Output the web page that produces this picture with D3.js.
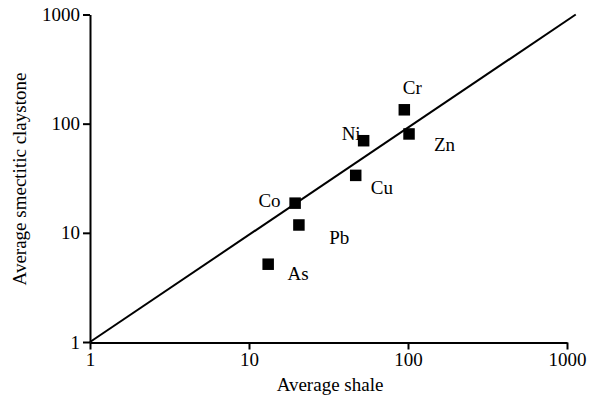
<!DOCTYPE html>
<html>
<head>
<meta charset="utf-8">
<script src="https://cdn.jsdelivr.net/npm/d3@7"></script>
<style>
  html, body { margin: 0; padding: 0; background: #fff; }
  svg { display: block; }
  svg text { font-family: "Liberation Serif", "Times New Roman", Times, serif !important; fill: #000; }
</style>
</head>
<body>
<svg id="chart" width="590" height="397"></svg>
<script>
// ---- data ----
const elements = ["Cr", "Zn", "Ni", "Cu", "Co", "Pb", "As"];
const shaleValues = [94.8, 101.5, 52.6, 46.9, 19.5, 20.6, 13.2];
const claystoneValues = [134, 80.5, 69.8, 33.6, 18.7, 11.8, 5.16];
const tickValues = [1, 10, 100, 1000];
const refLineX = [1, 1135];
const refLineY = [1, 1000];
const xTitle = "Average shale";
const yTitle = "Average smectitic claystone";

// ---- layout ----
const labelOffsets = [[-1.6, -16], [25, 17.4], [-22, -1], [15, 18.3], [-36.7, 3.4], [30.3, 19], [19.4, 15.7]];
const FONT = "'Liberation Serif', 'Times New Roman', Times, serif";
const svg = d3.select("#chart").attr("font-family", FONT);
const x = d3.scaleLog().domain([1, 1000]).range([90, 567]);
const y = d3.scaleLog().domain([1, 1000]).range([342, 14.5]);
const fontSize = 19;

// reference line
svg.append("line")
  .attr("x1", x(refLineX[0])).attr("y1", y(refLineY[0]))
  .attr("x2", x(refLineX[1])).attr("y2", y(refLineY[1]))
  .attr("stroke", "#000").attr("stroke-width", 2);

// axes
const xAxis = d3.axisBottom(x).tickValues(tickValues).tickFormat(d3.format("d"))
  .tickSize(7).tickSizeOuter(0).tickPadding(3);
const yAxis = d3.axisLeft(y).tickValues(tickValues).tickFormat(d3.format("d"))
  .tickSize(7).tickSizeOuter(0).tickPadding(3);

const gx = svg.append("g").attr("transform", "translate(0,342.5)").call(xAxis);
const gy = svg.append("g").attr("transform", "translate(90,0)").call(yAxis);
[gx, gy].forEach(g => {
  g.attr("font-family", FONT).attr("font-size", fontSize);
  g.selectAll("path.domain").attr("stroke", "#000").attr("stroke-width", 2);
  g.selectAll(".tick line").attr("stroke", "#000").attr("stroke-width", 2);
  g.selectAll(".tick text").attr("font-size", fontSize)
    .attr("font-family", FONT).attr("fill", "#000");
});

// points
const data = elements.map((e, i) => ({ e, sx: shaleValues[i], cy: claystoneValues[i], off: labelOffsets[i] }));
const sq = 11.5;
svg.append("g").selectAll("rect").data(data).join("rect")
  .attr("x", d => x(d.sx) - sq / 2).attr("y", d => y(d.cy) - sq / 2)
  .attr("width", sq).attr("height", sq).attr("fill", "#000");

svg.append("g").selectAll("text").data(data).join("text")
  .attr("x", d => x(d.sx) + d.off[0]).attr("y", d => y(d.cy) + d.off[1])
  .attr("font-size", fontSize).attr("font-family", FONT)
  .text(d => d.e);

// axis titles
svg.append("text").attr("x", 330).attr("y", 391).attr("text-anchor", "middle")
  .attr("font-size", fontSize).attr("font-family", FONT).text(xTitle);
svg.append("text").attr("transform", "translate(26,179) rotate(-90)")
  .attr("text-anchor", "middle").attr("font-size", fontSize).attr("font-family", FONT).text(yTitle);
</script>
</body>
</html>
